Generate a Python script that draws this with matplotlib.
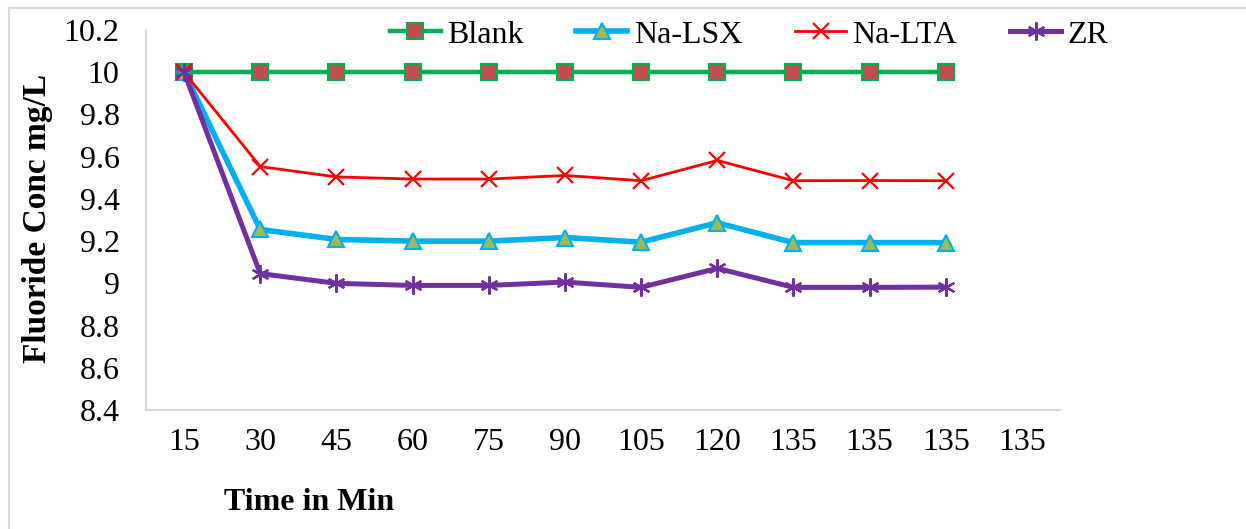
import matplotlib
matplotlib.use("Agg")
import matplotlib.pyplot as plt
from matplotlib.patches import Rectangle

categories = ["15", "30", "45", "60", "75", "90", "105", "120", "135", "135", "135", "135"]
blank = [10, 10, 10, 10, 10, 10, 10, 10, 10, 10, 10]
na_lsx = [10, 9.255, 9.208, 9.20, 9.20, 9.217, 9.195, 9.287, 9.193, 9.193, 9.193]
na_lta = [10, 9.553, 9.504, 9.494, 9.494, 9.511, 9.486, 9.582, 9.486, 9.487, 9.486]
zr = [10, 9.046, 9.0, 8.99, 8.99, 9.006, 8.981, 9.071, 8.981, 8.981, 8.982]

plt.rcParams['font.family'] = ['Liberation Serif', 'DejaVu Serif']

fig = plt.figure(figsize=(12.46, 5.29), dpi=100)
ax = fig.add_axes([146/1246, 1-410/529, (1060-146)/1246, (410-30)/529])

x = list(range(len(blank)))
ax.plot(x, blank, color='#00B050', lw=3.2, marker='s', ms=11,
        mfc='#C0504D', mec='#00B050', mew=1.5, label='Blank', zorder=3)
ax.plot(x, na_lsx, color='#00B0F0', lw=4, marker='^', ms=11,
        mfc='#9BBB59', mec='#00B0F0', mew=1.5, label='Na-LSX', zorder=4)
ax.plot(x, na_lta, color='#FF0000', lw=2, marker='x', ms=11,
        mec='#FF0000', mew=1.6, label='Na-LTA', zorder=5)
ax.plot(x, zr, color='#7030A0', lw=3.6, marker=(6, 2, 0), ms=13,
        mec='#7030A0', mew=1.6, label='ZR', zorder=6)

ax.set_xlim(-0.5, len(categories) - 0.5)
ax.set_ylim(8.4, 10.2)
ax.set_xticks(range(len(categories)))
ax.set_xticklabels(categories)
yt = [round(8.4 + 0.2 * i, 1) for i in range(10)]
ax.set_yticks(yt)
ax.set_yticklabels([f"{v:g}" for v in yt])
ax.tick_params(axis='both', length=0, labelsize=23)
ax.tick_params(axis='y', pad=19)
ax.tick_params(axis='x', pad=13)
for s in ['top', 'right']:
    ax.spines[s].set_visible(False)
for s in ['left', 'bottom']:
    ax.spines[s].set_color('#D9D9D9')
    ax.spines[s].set_linewidth(1.5)

leg = fig.legend(loc='center', bbox_to_anchor=(749/1246, 1-35/529), ncol=4,
                 frameon=False, fontsize=23, handlelength=1.6, columnspacing=1.65,
                 handletextpad=0.2)

fig.text(38/1246, 1-218/529, 'Fluoride Conc mg/L', rotation=90, ha='center',
         va='center', fontsize=24, fontweight='bold')
fig.text(309/1246, 1-503/529, 'Time in Min', ha='center', va='center',
         fontsize=23, fontweight='bold')

fig.patches.append(Rectangle((9/1246, -0.1), 1.2, 1 - 8/529 + 0.1,
                             transform=fig.transFigure, fill=False,
                             edgecolor='#D9D9D9', lw=1.5))

fig.savefig('out.png', dpi=100)
